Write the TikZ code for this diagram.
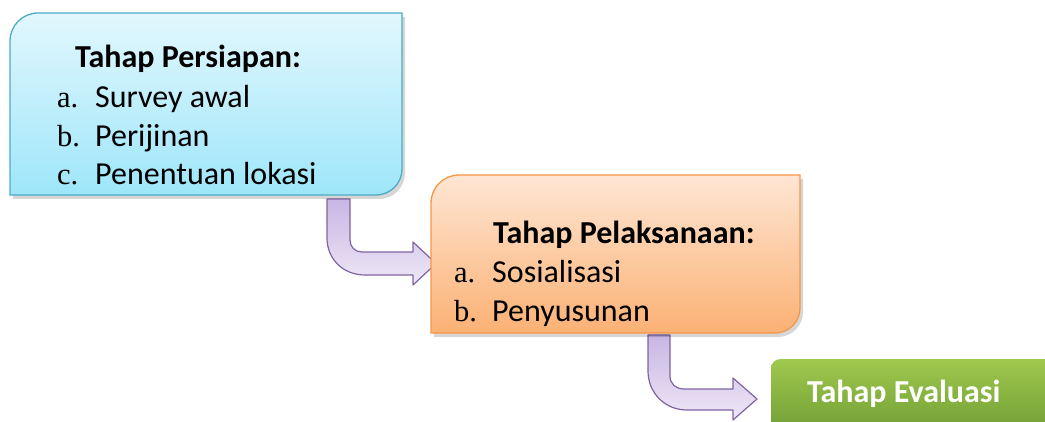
\documentclass[tikz,border=0pt]{standalone}
\usepackage{fontspec}
\setmainfont{Carlito}
\newfontfamily\labfont{Liberation Serif}
\definecolor{bOneTop}{HTML}{E2F7FD}
\definecolor{bOneBot}{HTML}{9EE6FA}
\definecolor{bOneLine}{HTML}{4BACC6}
\definecolor{bTwoTop}{HTML}{FEE6D4}
\definecolor{bTwoBot}{HTML}{FBB174}
\definecolor{bTwoLine}{HTML}{F79646}
\definecolor{gTop}{HTML}{9FC84D}
\definecolor{gBot}{HTML}{72A036}
\definecolor{arTop}{HTML}{C9B5E4}
\definecolor{arBot}{HTML}{EEE8F6}
\definecolor{arLine}{HTML}{8064A2}
\tikzset{
  txt/.style={anchor=base west, inner sep=0pt, font=\fontsize{32}{38}\selectfont},
  lab/.style={anchor=base west, inner sep=0pt, font=\fontsize{30.5}{38}\selectfont\labfont},
  shadowpath/.style={fill=black, opacity=0.16, draw=none},
  blockarrow/.style={top color=arTop, bottom color=arBot, draw=arLine, line width=1.2pt, line join=round},
}
\begin{document}
\begin{tikzpicture}[x=1pt,y=-1pt]
\useasboundingbox (0,0) rectangle (1045,422);
% ---------- arrows (behind boxes)
\path[blockarrow] (327,199) -- (327,238)
   .. controls (327,259) and (343,275) .. (365,275)
   -- (413,275) -- (413,285) -- (436,263.5) -- (413,242) -- (413,252)
   -- (362,252) .. controls (355,252) and (350,247) .. (350,240)
   -- (350,199) -- cycle;
\path[blockarrow] (648,335) -- (648,371)
   .. controls (648,392) and (664,410) .. (687,410)
   -- (733,410) -- (733,420) -- (757,399) -- (733,378) -- (733,389)
   -- (684,389) .. controls (676,389) and (670,384) .. (670,376)
   -- (670,335) -- cycle;
% ---------- box 1
\path[shadowpath,shift={(3,4)}] (10,41) .. controls (10,25.5) and (22.5,13) .. (38,13)
   -- (402,13) -- (402,169) .. controls (402,183.4) and (390.4,195) .. (376,195)
   -- (10,195) -- cycle;
\path[top color=bOneTop, bottom color=bOneBot, draw=bOneLine, line width=1.3pt]
   (10,41) .. controls (10,25.5) and (22.5,13) .. (38,13)
   -- (402,13) -- (402,169) .. controls (402,183.4) and (390.4,195) .. (376,195)
   -- (10,195) -- cycle;
\node[txt] (t1) at (75,68) {\bfseries Tahap Persiapan:};
\node[lab] (a1) at (57,108) {a.};
\node[txt] (s1) at (95,108) {Survey awal};
\node[lab] (b1) at (57,147) {b.};
\node[txt] (s2) at (95,147) {Perijinan};
\node[lab] (c1) at (57,185) {c.};
\node[txt] (s3) at (95,185) {Penentuan lokasi};
% ---------- box 2
\path[shadowpath,shift={(3,4)}] (431,203) .. controls (431,187.5) and (443.5,175) .. (459,175)
   -- (800,175) -- (800,308) .. controls (800,321.8) and (788.8,333) .. (775,333)
   -- (431,333) -- cycle;
\path[top color=bTwoTop, bottom color=bTwoBot, draw=bTwoLine, line width=1.3pt]
   (431,203) .. controls (431,187.5) and (443.5,175) .. (459,175)
   -- (800,175) -- (800,308) .. controls (800,321.8) and (788.8,333) .. (775,333)
   -- (431,333) -- cycle;
\node[txt] (t2) at (493,244) {\bfseries Tahap Pelaksanaan:};
\node[lab] (a2) at (454,283) {a.};
\node[txt] (u1) at (492,283) {Sosialisasi};
\node[lab] (b2) at (454,322) {b.};
\node[txt] (u2) at (492,322) {Penyusunan};
% ---------- box 3
\path[top color=gTop, bottom color=gBot, draw=none]
   (771,369) .. controls (771,363) and (775,359) .. (781,359)
   -- (1050,359) -- (1050,430) -- (771,430) -- cycle;
\node[txt, text=white] (t3) at (807,402) {\bfseries Tahap Evaluasi};
\end{tikzpicture}
\end{document}
